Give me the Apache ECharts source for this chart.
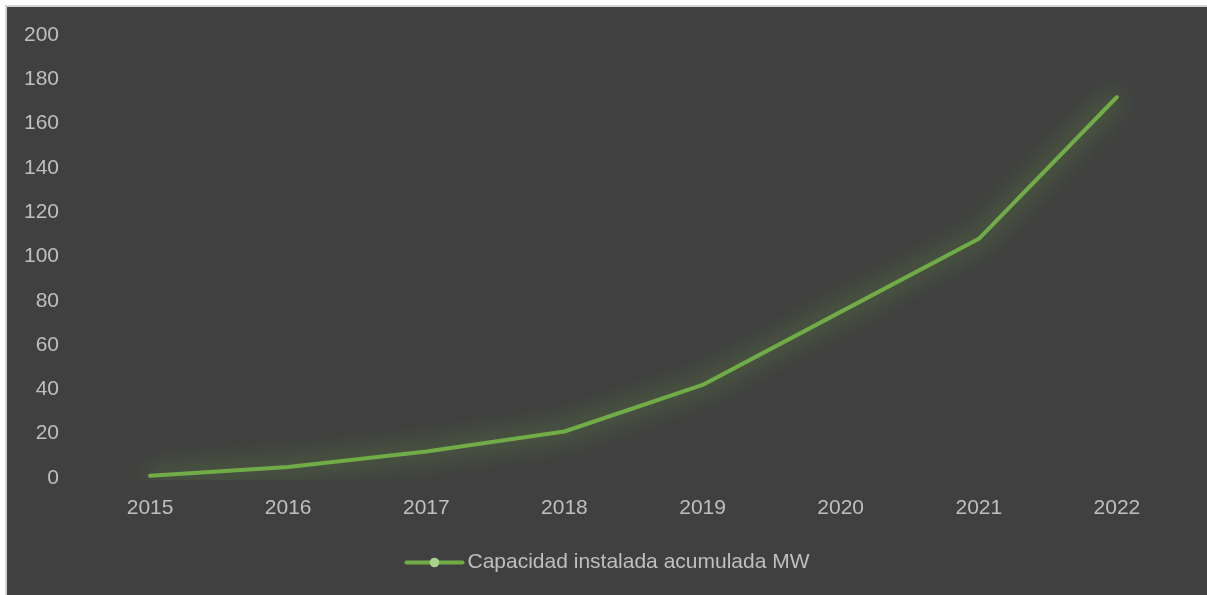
<!DOCTYPE html>
<html>
<head>
<meta charset="utf-8">
<script src="https://cdn.jsdelivr.net/npm/echarts@6/dist/echarts.min.js"></script>
<style>
  html, body { margin: 0; padding: 0; background: #ffffff; }
  #frame {
    position: absolute; left: 5px; top: 5px; right: 0; bottom: 0;
    border-left: 2px solid #d4d4d4; border-top: 2px solid #d4d4d4;
    background: #404040;
  }
  #chart { width: 1200px; height: 588px; }
</style>
</head>
<body>
<div id="frame"><div id="chart"></div></div>
<script>
// años y capacidad acumulada (MW)
const years = ['2015', '2016', '2017', '2018', '2019', '2020', '2021', '2022']
const capacity = [1, 5, 12, 21, 42, 75, 108, 172]
const seriesName = 'Capacidad instalada acumulada MW'

const textColor = '#bfbfbf'
const fontFamily = '"Liberation Sans", Arial, sans-serif'

let myChart = echarts.init(document.getElementById('chart'))
let option = {
  backgroundColor: '#404040',
  animation: false,
  grid: { left: 74, right: 21, top: 28, bottom: 117 },
  xAxis: {
    type: 'category',
    data: years,
    boundaryGap: true,
    axisLine: { show: false },
    axisTick: { show: false },
    axisLabel: { color: textColor, fontSize: 21, fontFamily: fontFamily, margin: 20 }
  },
  yAxis: {
    type: 'value',
    min: 0,
    max: 200,
    interval: 20,
    splitLine: { show: false },
    axisLine: { show: false },
    axisTick: { show: false },
    axisLabel: { color: textColor, fontSize: 21, fontFamily: fontFamily, margin: 22 }
  },
  legend: {
    bottom: 17,
    left: 'center',
    itemWidth: 56,
    itemHeight: 12,
    itemGap: 4,
    textStyle: { color: textColor, fontSize: 21, fontFamily: fontFamily },
    itemStyle: { color: '#a9d18e' },
    lineStyle: { color: '#70ad47', width: 4 }
  },
  series: [
    {
      name: seriesName,
      type: 'line',
      data: capacity,
      symbol: 'circle',
      symbolSize: 8,
      showSymbol: false,
      lineStyle: {
        color: '#70ad47',
        width: 4,
        cap: 'round',
        shadowBlur: 26,
        shadowColor: 'rgba(118, 190, 64, 1)'
      },
      itemStyle: { color: '#70ad47' }
    }
  ]
}
myChart.setOption(option)
</script>
</body>
</html>
